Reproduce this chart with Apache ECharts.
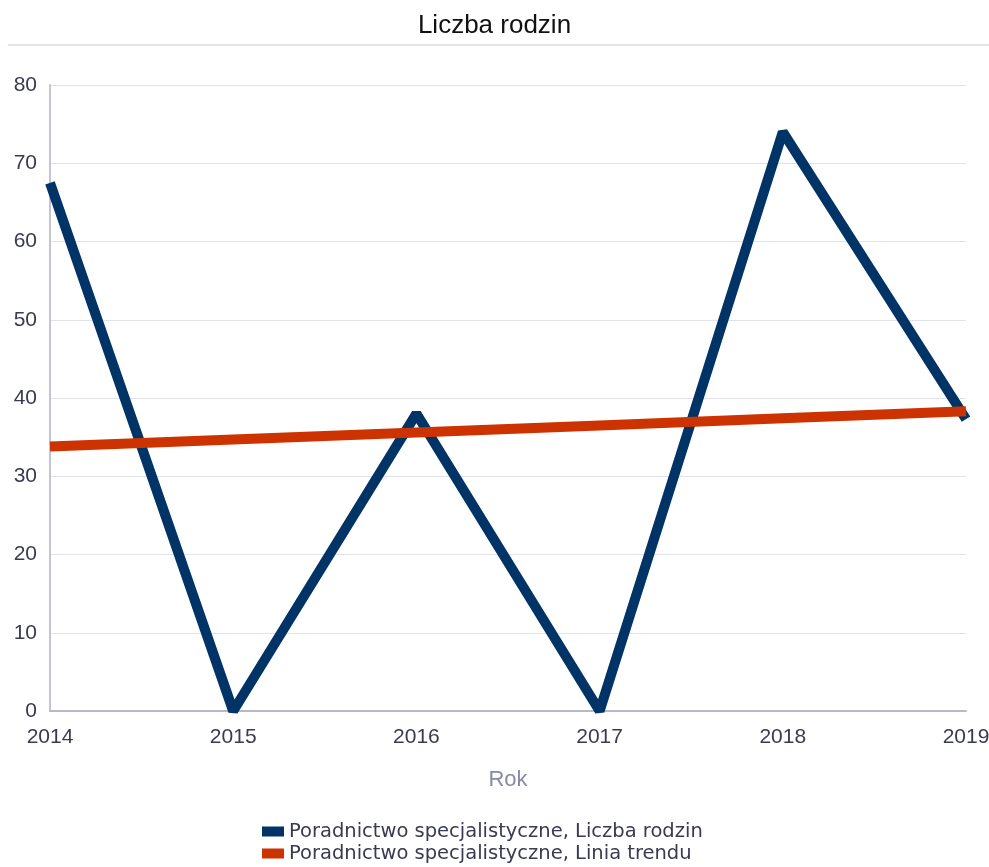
<!DOCTYPE html>
<html><head><meta charset="utf-8">
<script src="https://cdn.jsdelivr.net/npm/echarts@6/dist/echarts.min.js"></script>
<style>html,body{margin:0;padding:0;background:#fff}#c{width:989px;height:867px}</style>
</head><body><div id="c"></div>
<script>
const years = ['2014','2015','2016','2017','2018','2019'];
const rodziny = [67.5, 0, 38, 0, 74, 37.3];
const trend = [33.8, 34.7, 35.6, 36.5, 37.4, 38.3];
const yTicks = [0,10,20,30,40,50,60,70,80];

const chart = echarts.init(document.getElementById('c'));
chart.setOption({
  animation:false,
  title:{text:'Liczba rodzin',left:'center',top:8,textStyle:{fontFamily:'Liberation Sans',fontWeight:'normal',fontSize:26,color:'#111'}},
  graphic:[{type:'rect',shape:{x:8,y:44,width:981,height:2},style:{fill:'#e2e2ee'}}],
  grid:{left:50,right:23,top:85,bottom:156,outerBoundsMode:'none',containLabel:false},
  legend:{orient:'vertical',left:262,top:821,height:60,itemWidth:22,itemHeight:10,itemGap:1,icon:'rect',padding:0,
    textStyle:{fontFamily:'DejaVu Sans',fontSize:19.5,color:'#3a3a52',lineHeight:21},
    data:['Poradnictwo specjalistyczne, Liczba rodzin','Poradnictwo specjalistyczne, Linia trendu']},
  xAxis:{type:'category',data:years,boundaryGap:false,name:'Rok',nameLocation:'middle',nameGap:58,
    nameTextStyle:{fontFamily:'Liberation Sans',fontSize:22,color:'#8a8aa6'},
    axisLine:{lineStyle:{color:'#b8b8cc',width:2}},axisTick:{show:false},
    axisLabel:{fontFamily:'Liberation Sans',fontSize:21,color:'#3a3a52',margin:16,
      showMinLabel:true,showMaxLabel:true},
    splitLine:{show:false}},
  yAxis:{type:'value',min:yTicks[0],max:yTicks[yTicks.length-1],interval:10,
    axisLine:{show:true,lineStyle:{color:'#c4c4d6',width:2}},axisTick:{show:false},
    axisLabel:{fontFamily:'Liberation Sans',fontSize:21,color:'#3a3a52',margin:13},
    splitLine:{lineStyle:{color:'#e2e2ec',width:1}}},
  series:[
    {name:'Poradnictwo specjalistyczne, Liczba rodzin',type:'line',data:rodziny,showSymbol:false,symbol:'none',
      lineStyle:{color:'#003366',width:10},itemStyle:{color:'#003366'},z:2},
    {name:'Poradnictwo specjalistyczne, Linia trendu',type:'line',data:trend,showSymbol:false,symbol:'none',
      lineStyle:{color:'#cc3300',width:10},itemStyle:{color:'#cc3300'},z:3}
  ]
});
</script></body></html>
